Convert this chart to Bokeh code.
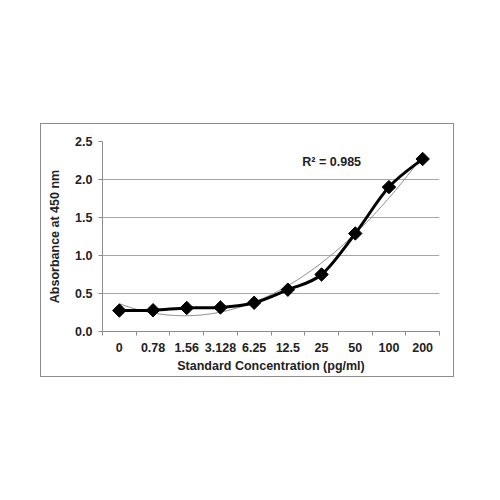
import numpy as np
from bokeh.plotting import figure
from bokeh.models import FixedTicker, Spacer
from bokeh.layouts import column, row
from bokeh.core.properties import value
from bokeh.embed import file_html
from bokeh.resources import INLINE

# standard curve data
concentrations = ["0", "0.78", "1.56", "3.128", "6.25", "12.5", "25", "50", "100", "200"]
absorbance = [0.276, 0.28, 0.31, 0.316, 0.378, 0.55, 0.75, 1.29, 1.90, 2.27]
y_ticks = [0.0, 0.5, 1.0, 1.5, 2.0, 2.5]

FONT = "Liberation Sans"
TXT = "#222222"

xs = np.arange(1, len(concentrations) + 1, dtype=float)
ys = np.array(absorbance)

p = figure(width=414, height=254, x_range=(0.5, 10.5), y_range=(0, 2.5),
           output_backend="svg", toolbar_location=None,
           min_border_left=61, min_border_right=16, min_border_top=17, min_border_bottom=47)
p.styles = {"border": "1px solid #8c8c8c"}
p.outline_line_color = None
p.background_fill_color = "white"

# polynomial trendline (order 2), like the spreadsheet one
coef = np.polyfit(xs, ys, 2)
xf = np.linspace(1, 10, 200)
p.line(xf, np.polyval(coef, xf), line_color="#8a8a8a", line_width=1)

# smoothed line through the points (catmull-rom -> bezier)
px = np.concatenate([[xs[0]], xs, [xs[-1]]])
py = np.concatenate([[ys[0]], ys, [ys[-1]]])
x0, y0 = xs[:-1], ys[:-1]
x1, y1 = xs[1:], ys[1:]
cx0 = x0 + (px[2:-1] - px[:-3]) / 6
cy0 = y0 + (py[2:-1] - py[:-3]) / 6
cx1 = x1 - (px[3:] - px[1:-2]) / 6
cy1 = y1 - (py[3:] - py[1:-2]) / 6
p.bezier(x0=x0, y0=y0, x1=x1, y1=y1, cx0=cx0, cy0=cy0, cx1=cx1, cy1=cy1,
         line_color="black", line_width=3)

p.scatter(xs, ys, marker="square", angle=np.pi / 4, size=9.5,
          fill_color="black", line_color="black")

p.text(x=[6.43], y=[2.23], text=["R² = 0.985"], text_font=value(FONT),
       text_font_style="bold", text_font_size="12.5px", text_color=TXT,
       text_baseline="middle", text_align="left")

# axes
p.xgrid.visible = False
p.ygrid.grid_line_color = "#a6a6a6"
p.ygrid.ticker = FixedTicker(ticks=y_ticks)

p.xaxis.ticker = FixedTicker(ticks=list(xs), minor_ticks=list(np.arange(0.5, 11, 1.0)))
p.xaxis.major_label_overrides = {float(i): c for i, c in zip(xs, concentrations)}
p.xaxis.major_tick_out = 0
p.xaxis.major_tick_in = 0
p.xaxis.minor_tick_out = 4
p.xaxis.minor_tick_in = 0
p.xaxis.major_label_standoff = 7
p.xaxis.axis_label = "Standard Concentration (pg/ml)"
p.xaxis.axis_label_standoff = 4

p.yaxis.ticker = FixedTicker(ticks=y_ticks)
p.yaxis.formatter.use_scientific = False
p.yaxis.major_label_overrides = {t: f"{t:.1f}" for t in y_ticks}
p.yaxis.major_tick_out = 4
p.yaxis.major_tick_in = 0
p.yaxis.minor_tick_out = 0
p.yaxis.minor_tick_in = 0
p.yaxis.major_label_standoff = 6
p.yaxis.axis_label = "Absorbance at 450 nm"
p.yaxis.axis_label_standoff = 10

for ax in (p.xaxis[0], p.yaxis[0]):
    ax.axis_line_color = "#8c8c8c"
    ax.major_tick_line_color = "#8c8c8c"
    ax.minor_tick_line_color = "#8c8c8c"
    ax.major_label_text_font = FONT
    ax.major_label_text_font_style = "bold"
    ax.major_label_text_font_size = "12.5px"
    ax.major_label_text_color = TXT
    ax.axis_label_text_font = FONT
    ax.axis_label_text_font_style = "bold"
    ax.axis_label_text_font_size = "12.5px"
    ax.axis_label_text_color = TXT

layout = column(Spacer(height=123), row(Spacer(width=40), p))

open("out.html", "w").write(file_html(layout, INLINE))
